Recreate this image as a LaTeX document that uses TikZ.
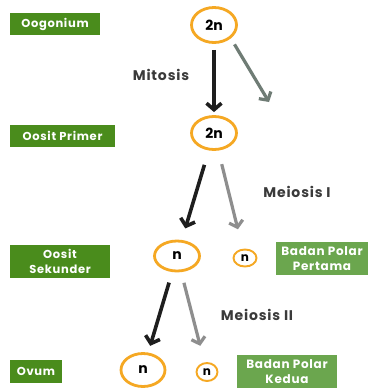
\documentclass[tikz,border=0pt]{standalone}
\usepackage{fontspec}
\setmainfont{Poppins}
\newfontfamily\spacedfont[LetterSpace=6]{Poppins}
\usetikzlibrary{shapes.geometric,arrows.meta}
\definecolor{boxgreen}{HTML}{4A8C1C}
\definecolor{polargreen}{HTML}{6BA64E}
\definecolor{cellorange}{HTML}{F5A823}
\definecolor{firstgray}{HTML}{6F7C75}
\definecolor{arrowgray}{HTML}{8E8E8E}
\definecolor{arrowblack}{HTML}{1E1E1E}
\definecolor{labelgray}{HTML}{3A3A3A}
\begin{document}
\begin{tikzpicture}[x=1pt,y=-1pt,
	cell/.style={ellipse, draw=cellorange, line width=2.8pt, inner sep=0pt, font=\bfseries\fontsize{14}{15}\selectfont},
	smallcell/.style={ellipse, draw=cellorange, line width=1.9pt, inner sep=0pt, font=\bfseries\fontsize{12}{13}\selectfont},
	stagebox/.style={fill=boxgreen, text=white, inner sep=0pt, align=center, font=\spacedfont\bfseries\fontsize{11.5}{15}\selectfont},
	polarbox/.style={fill=polargreen, text=white, inner sep=0pt, align=center, font=\spacedfont\bfseries\fontsize{12}{15}\selectfont},
	divlabel/.style={text=labelgray, font=\spacedfont\bfseries\fontsize{14}{15}\selectfont},
	blackarrow/.style={draw=arrowblack, line width=3.6pt, -{Straight Barb[length=6.5pt,width=15pt]}},
	grayarrow/.style={draw=arrowgray, line width=3.2pt, -{Straight Barb[length=6pt,width=14pt]}}]
	\useasboundingbox[fill=white] (0,0) rectangle (370,389);

	% stages on the left
	\node[stagebox, minimum width=90pt, minimum height=22pt] (oogonium) at (55,24) {Oogonium};
	\node[stagebox, minimum width=105pt, minimum height=22pt] (primer) at (62.5,136) {Oosit Primer};
	\node[stagebox, minimum width=100pt, minimum height=33pt] (sekunder) at (60,261.5) {Oosit\\Sekunder};
	\node[stagebox, minimum width=52pt, minimum height=23pt] (ovum) at (36,371.5) {Ovum};

	% cells
	\node[cell, minimum width=45pt, minimum height=35pt] (c1) at (214,25) {2n};
	\node[cell, minimum width=45pt, minimum height=33pt] (c2) at (214,133) {2n};
	\node[cell, minimum width=45pt, minimum height=30pt] (c3) at (177,256) {n};
	\node[cell, minimum width=44pt, minimum height=33pt] (c4) at (143,370) {n};
	\node[smallcell, minimum width=23pt, minimum height=17pt] (p1) at (245,258) {n};
	\node[smallcell, minimum width=21pt, minimum height=18pt] (p2) at (207,372) {n};

	% polar bodies
	\node[polarbox, minimum width=92pt, minimum height=33pt] (pertama) at (322,258.5) {Badan Polar\\Pertama};
	\node[polarbox, minimum width=100pt, minimum height=33pt] (kedua) at (287,371.5) {Badan Polar\\Kedua};

	% divisions
	\node[divlabel] (mitosis) at (161,75) {Mitosis};
	\node[divlabel] (meiosis1) at (297,192) {Meiosis I};
	\node[divlabel] (meiosis2) at (257,315) {Meiosis II};

	\coordinate (gone) at (269,102);
	\draw[blackarrow, shorten <=6pt, shorten >=3pt] (c1) -- (c2);
	\draw[grayarrow, draw=firstgray, shorten <=7pt] (c1.south east) -- (gone);
	\draw[blackarrow, shorten <=15pt, shorten >=12pt] (c2) -- (c3);
	\draw[grayarrow, shorten <=14pt, shorten >=20pt] (c2) -- (p1);
	\draw[blackarrow, shorten <=11pt, shorten >=7pt] (c3) -- (c4);
	\draw[grayarrow, shorten <=11pt, shorten >=17pt] (c3) -- (p2);
\end{tikzpicture}
\end{document}
